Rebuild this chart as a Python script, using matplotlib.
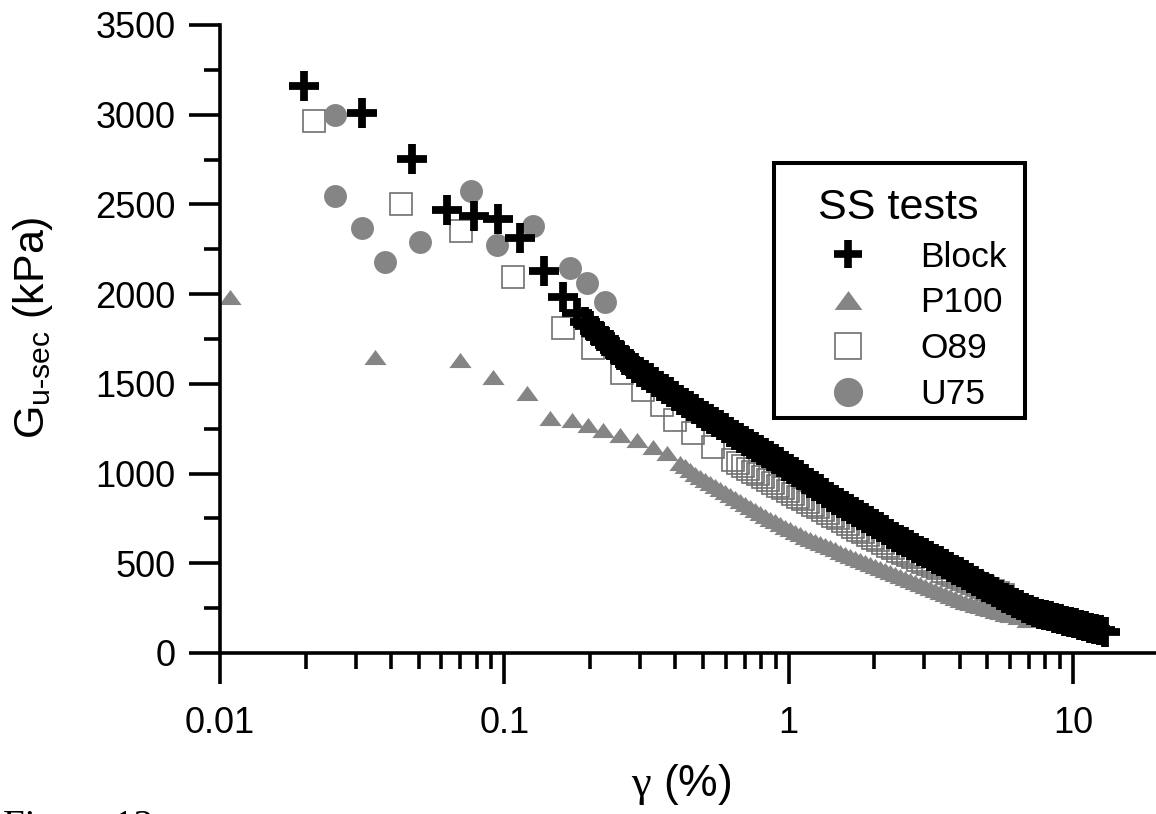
import matplotlib
matplotlib.use('Agg')
import matplotlib.pyplot as plt
from matplotlib.lines import Line2D
from matplotlib.patches import Rectangle
from matplotlib.ticker import FixedLocator, FixedFormatter, MultipleLocator, NullFormatter

plt.rcParams['font.family'] = ['Liberation Sans', 'DejaVu Sans']
plt.rcParams['mathtext.fontset'] = 'custom'
plt.rcParams['mathtext.rm'] = 'Liberation Serif'
plt.rcParams['mathtext.sf'] = 'Liberation Sans'
plt.rcParams['mathtext.it'] = 'Liberation Sans:italic'
plt.rcParams['mathtext.bf'] = 'Liberation Sans:bold'

# ---------------- data ----------------
block_x = [0.0198, 0.0316, 0.0474, 0.0629, 0.0782, 0.0950, 0.1136, 0.1379, 0.161, 0.180,
           0.192, 0.200, 0.208, 0.217, 0.226, 0.235, 0.245, 0.255, 0.266, 0.277,
           0.288, 0.300, 0.312, 0.325, 0.339, 0.353, 0.367, 0.383, 0.398, 0.415,
           0.432, 0.450, 0.469, 0.488, 0.508, 0.529, 0.551, 0.574, 0.597, 0.622,
           0.648, 0.675, 0.702, 0.731, 0.762, 0.793, 0.826, 0.860, 0.896, 0.933,
           0.971, 1.011, 1.053, 1.097, 1.142, 1.189, 1.238, 1.290, 1.343, 1.398,
           1.456, 1.516, 1.579, 1.644, 1.712, 1.783, 1.857, 1.933, 2.013, 2.096,
           2.183, 2.273, 2.367, 2.465, 2.567, 2.673, 2.784, 2.899, 3.018, 3.144,
           3.273, 3.408, 3.549, 3.696, 3.848, 4.008, 4.173, 4.346, 4.525, 4.713,
           4.907, 5.109, 5.321, 5.541, 5.770, 6.008, 6.257, 6.516, 6.785, 7.067,
           7.357, 7.662, 7.978, 8.307, 8.650, 9.008, 9.380, 9.768, 10.17, 10.59,
           11.03, 11.48, 11.96, 12.45, 12.97]
block_g = [3160, 3010, 2753, 2469, 2435, 2419, 2313, 2129, 1984, 1895,
           1845, 1820, 1794, 1767, 1739, 1714, 1689, 1661, 1633, 1610,
           1588, 1568, 1549, 1530, 1510, 1490, 1471, 1452, 1432, 1412,
           1393, 1377, 1360, 1340, 1321, 1304, 1287, 1270, 1254, 1234,
           1215, 1198, 1181, 1165, 1148, 1132, 1115, 1098, 1081, 1062,
           1042, 1026, 1009, 990, 970, 950, 931, 912, 892, 872,
           853, 836, 819, 802, 786, 769, 752, 735, 719, 702,
           685, 666, 646, 632, 619, 602, 585, 571, 557, 540,
           524, 510, 496, 480, 463, 449, 435, 418, 401, 385,
           368, 354, 340, 324, 307, 293, 279, 265, 251, 240,
           228, 220, 212, 204, 195, 187, 178, 172, 167, 158,
           150, 142, 134, 126, 117]

p100_x = [0.0108, 0.0351, 0.0699, 0.0913, 0.120, 0.145, 0.173, 0.197, 0.222, 0.255,
          0.293, 0.334, 0.374,
          0.415, 0.432, 0.450, 0.469, 0.488, 0.508, 0.529, 0.551, 0.574, 0.597,
          0.622, 0.648, 0.675, 0.702, 0.731, 0.762, 0.793, 0.826, 0.860, 0.896,
          0.933, 0.971, 1.011, 1.053, 1.097, 1.142, 1.189, 1.238, 1.290, 1.343,
          1.398, 1.456, 1.516, 1.579, 1.644, 1.712, 1.783, 1.857, 1.933, 2.013,
          2.096, 2.183, 2.273, 2.367, 2.465, 2.567, 2.673, 2.784, 2.899, 3.018,
          3.144, 3.273, 3.408, 3.549, 3.696, 3.848, 4.008, 4.173, 4.346, 4.525,
          4.713, 4.907, 5.109, 5.321, 5.541, 5.770, 6.008, 6.41, 6.896]
p100_g = [1984, 1650, 1633, 1538, 1449, 1310, 1298, 1271, 1243, 1215,
          1187, 1148, 1115,
          1059, 1040, 1020, 1000, 981, 964, 947, 930, 914, 898,
          881, 864, 847, 830, 814, 797, 780, 763, 747, 733,
          719, 705, 691, 677, 663, 649, 635, 624, 613, 602,
          591, 577, 563, 552, 541, 530, 518, 507, 496, 485,
          474, 462, 451, 440, 429, 418, 407, 396, 385, 374,
          362, 351, 340, 329, 318, 306, 295, 287, 279, 270,
          262, 253, 245, 236, 228, 220, 212, 198, 184]

o89_x = [0.0214, 0.0433, 0.0704, 0.107, 0.161, 0.205, 0.259, 0.308, 0.359, 0.399,
         0.461, 0.542,
         0.637, 0.664, 0.691, 0.720, 0.750, 0.781, 0.813, 0.846, 0.881, 0.918,
         0.956, 0.995, 1.036, 1.079, 1.124, 1.170, 1.218, 1.269, 1.321, 1.376,
         1.433, 1.492, 1.554, 1.618, 1.685, 1.754, 1.827, 1.902, 1.982, 2.063,
         2.149, 2.237, 2.329, 2.426, 2.526, 2.630, 2.739, 2.852, 2.970, 3.093,
         3.221, 3.354, 3.492, 3.637, 3.787, 3.944, 4.107, 4.276, 4.453, 4.637,
         4.829, 5.029, 5.236, 5.453, 5.676]
o89_g = [2965, 2502, 2352, 2095, 1811, 1700, 1560, 1466, 1382, 1298,
         1226, 1148,
         1076, 1059, 1042, 1025, 1009, 995, 981, 964, 947, 933,
         920, 903, 886, 872, 858, 841, 825, 811, 797, 780,
         763, 750, 736, 719, 702, 688, 674, 657, 641, 627,
         613, 599, 585, 571, 557, 546, 535, 521, 507, 496,
         485, 471, 457, 446, 435, 423, 412, 401, 390, 379,
         368, 357, 346, 334, 323]

u75_x = [0.0254, 0.0254, 0.0316, 0.0380, 0.0505, 0.0764, 0.0943, 0.126, 0.170, 0.195, 0.226]
u75_g = [2998, 2547, 2369, 2179, 2291, 2575, 2274, 2380, 2146, 2062, 1956]

labels = ['Block', 'P100', 'O89', 'U75']
legend_title = 'SS tests'
x_major = [0.01, 0.1, 1, 10]
x_major_labels = ['0.01', '0.1', '1', '10']
x_minor = [m * d for d in (0.01, 0.1, 1) for m in range(2, 10)] + [20]

# ---------------- style ----------------
GRAY = '#858585'
SQ_EDGE = '#707070'
TRI = [(-1, -0.68), (1, -0.68), (0, 0.68), (-1, -0.68)]
W, H = 1156, 814

fig = plt.figure(figsize=(W / 100, H / 100), dpi=100)
ax = fig.add_axes([220 / W, 161 / H, 938.5 / W, 628 / H])
ax.set_xscale('log')
ax.set_xlim(0.01, 20)
ax.set_ylim(0, 3500)

ax.plot(p100_x, p100_g, ls='none', marker=TRI, ms=16, color=GRAY, mec='none', zorder=2)
ax.plot(o89_x, o89_g, ls='none', marker='s', ms=15.5, mfc='none', mec=SQ_EDGE, mew=1.2, zorder=3)
ax.plot(u75_x, u75_g, ls='none', marker='o', ms=16.5, color=GRAY, mec='none', zorder=4)
ax.plot(block_x, block_g, ls='none', marker='+', ms=22, color='black', mew=5.6, zorder=5)

for s in ('top', 'right'):
    ax.spines[s].set_visible(False)
for s in ('left', 'bottom'):
    ax.spines[s].set_linewidth(2.6)

ax.xaxis.set_major_locator(FixedLocator(x_major))
ax.xaxis.set_major_formatter(FixedFormatter(x_major_labels))
ax.xaxis.set_minor_locator(FixedLocator(x_minor))
ax.xaxis.set_minor_formatter(NullFormatter())
ax.yaxis.set_major_locator(MultipleLocator(500))
ax.yaxis.set_minor_locator(MultipleLocator(250))

ax.tick_params(which='major', direction='out', length=22, width=2.6, labelsize=26)
ax.tick_params(which='minor', direction='out', length=11.5, width=2.6)
ax.tick_params(axis='x', which='major', pad=16.5)
ax.tick_params(axis='y', which='major', pad=10)

ax.set_xlabel(r'$\mathrm{\gamma}$ (%)', fontsize=32)
ax.set_ylabel(r'G$_{\mathsf{u}\text{-}\mathsf{sec}}$ (kPa)', fontsize=31)
ax.xaxis.set_label_coords((681.5 - 220) / 938.5, (653 - 762) / 628)
ax.yaxis.set_label_coords((55 - 220) / 938.5, (653 - 327.5) / 628)

# legend frame
ax.add_patch(Rectangle((774 / W, 1 - 418 / H), (1025 - 774) / W, (418 - 163) / H,
                       transform=fig.transFigure, facecolor='white', edgecolor='black',
                       lw=2.9, zorder=9, clip_on=False))
handles = [
    Line2D([], [], ls='none', marker='+', color='black', ms=20, mew=5.5),
    Line2D([], [], ls='none', marker=TRI, color=GRAY, mec='none', ms=20),
    Line2D([], [], ls='none', marker='s', mfc='none', mec=SQ_EDGE, mew=1.2, ms=19),
    Line2D([], [], ls='none', marker='o', color=GRAY, mec='none', ms=21),
]
leg = ax.legend(handles, labels, title=legend_title, loc='upper left',
                bbox_to_anchor=(790 / W, 1 - 188 / H), bbox_transform=fig.transFigure,
                frameon=False, fontsize=25.5, title_fontsize=31, borderpad=0,
                labelspacing=0.36, handlelength=3.28, handletextpad=0.40,
                borderaxespad=0, numpoints=1)
leg.set_zorder(10)

fig.text(3 / W, 1 - 809 / H, 'Figure 13', family='Liberation Serif', fontsize=28, va='top', ha='left')

fig.savefig('out.png', dpi=100)
